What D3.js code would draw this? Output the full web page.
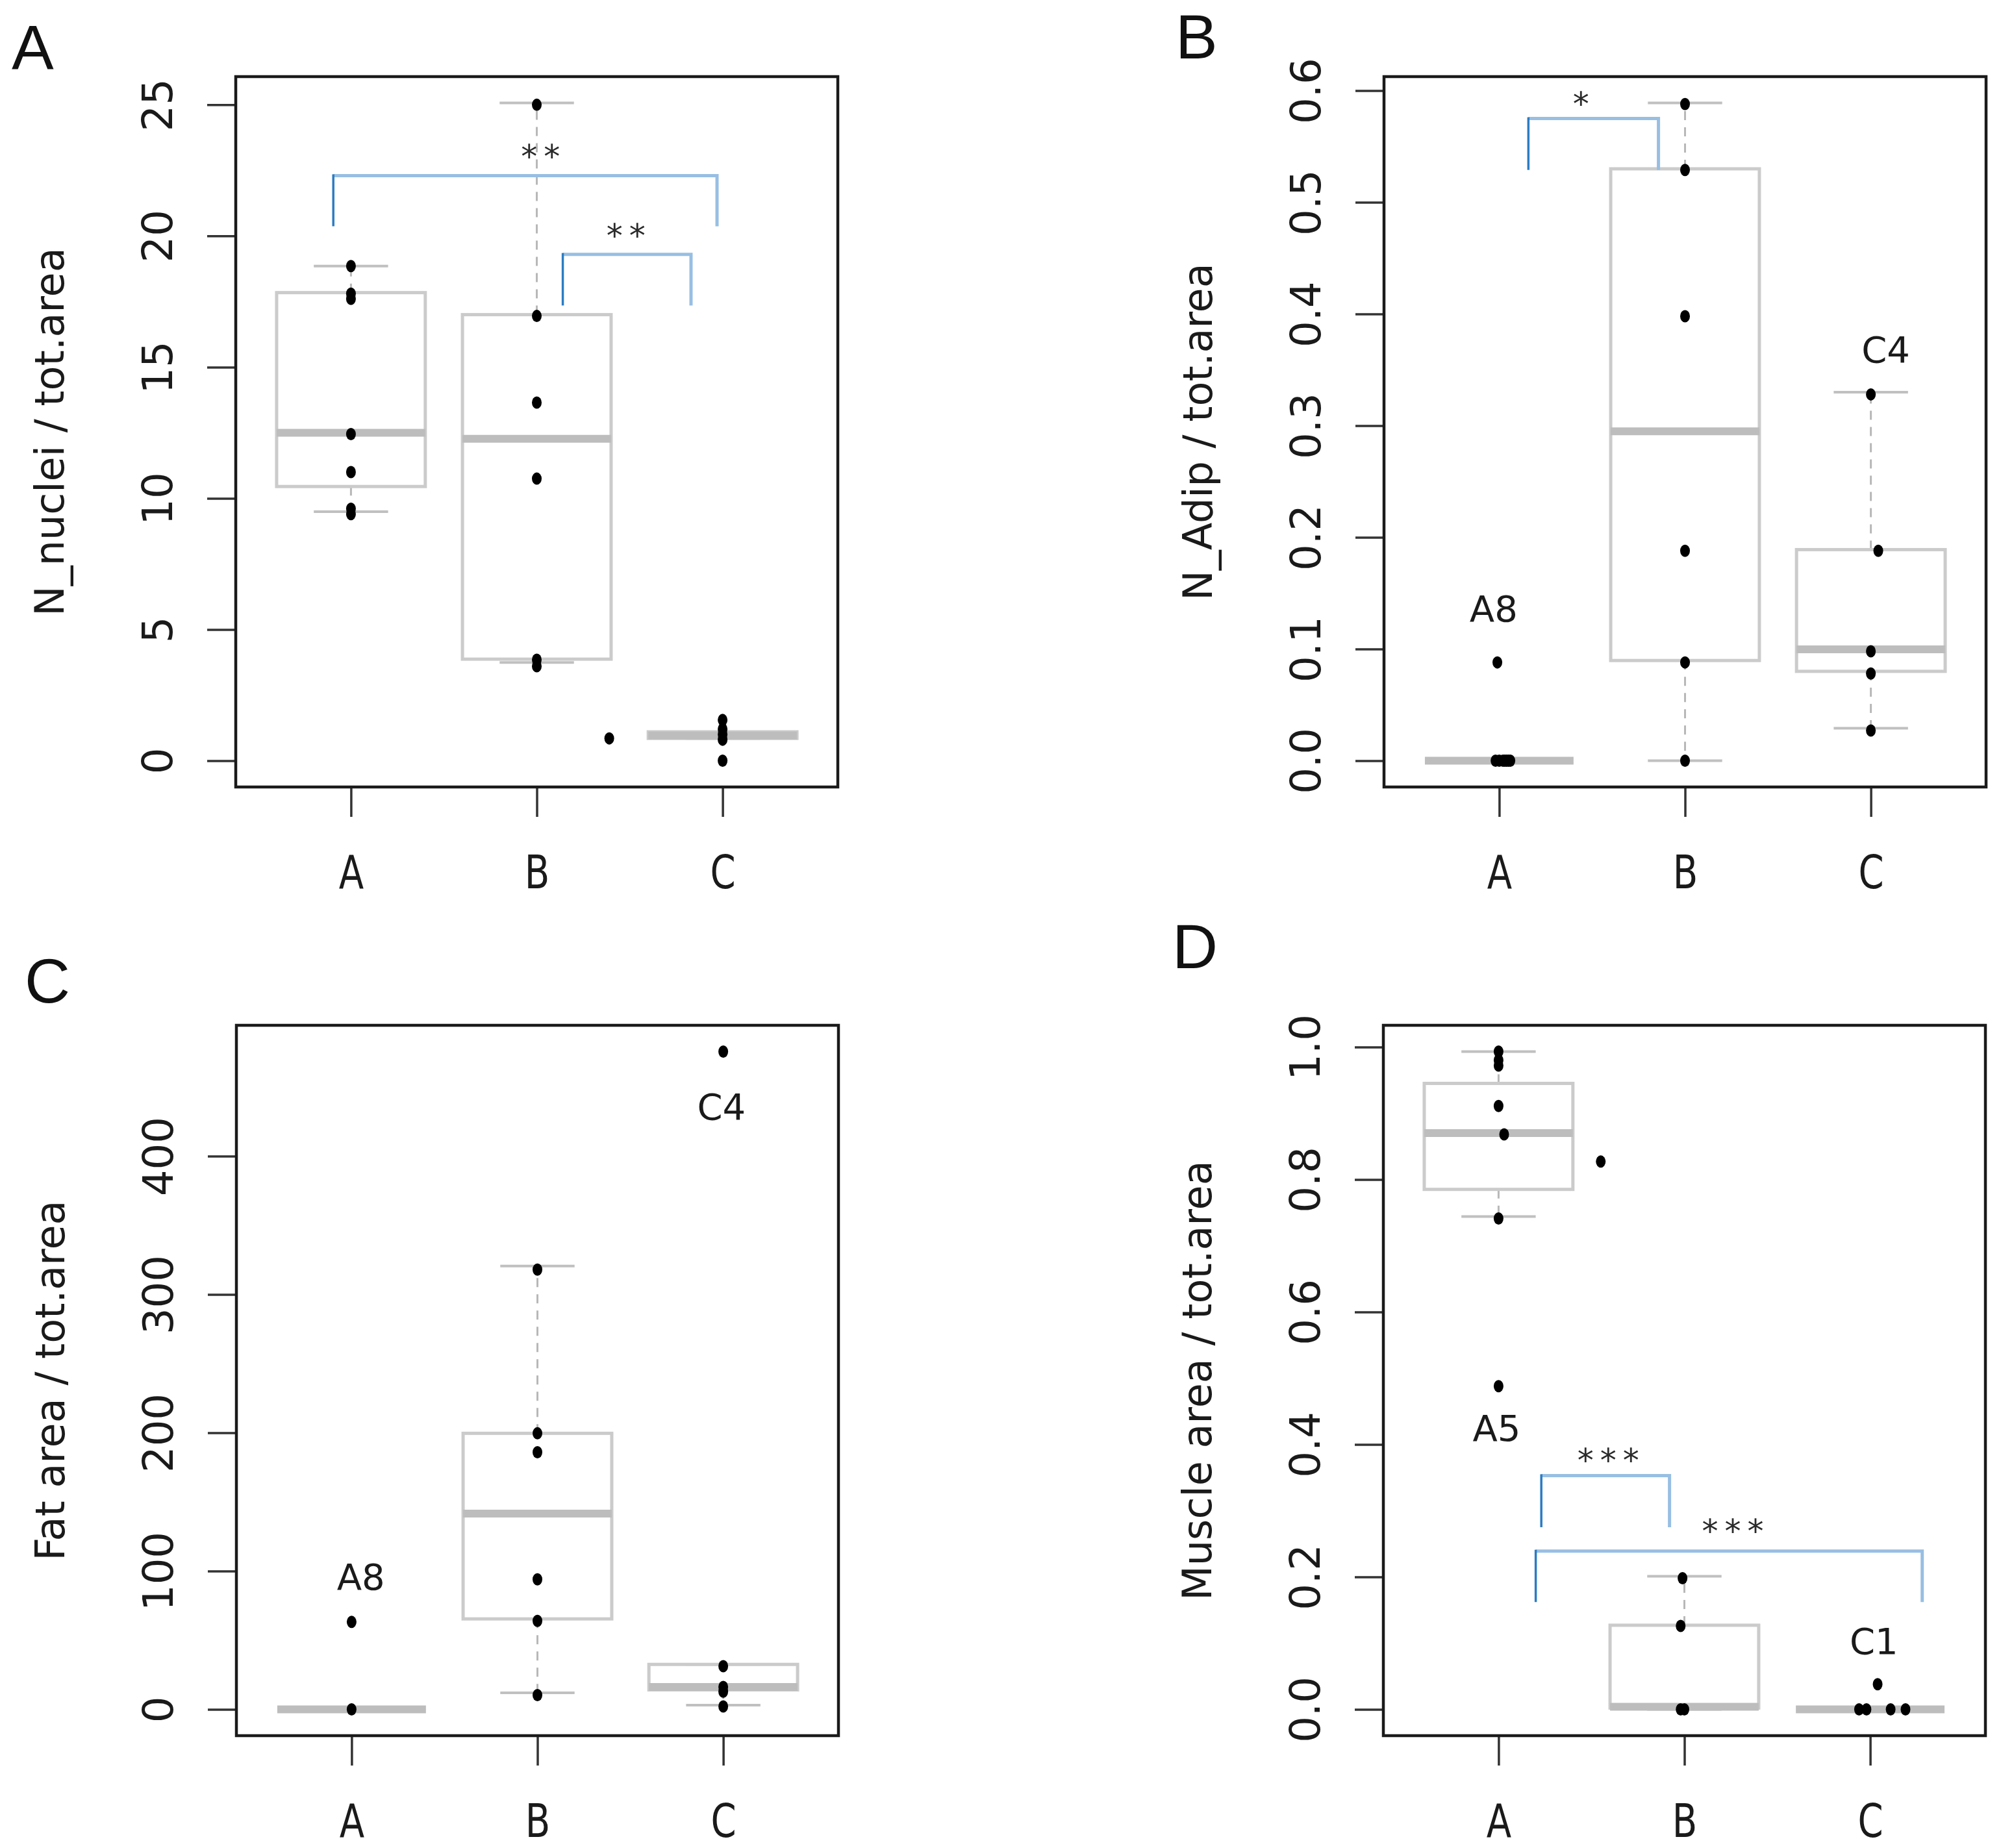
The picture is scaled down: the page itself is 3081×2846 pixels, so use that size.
<!DOCTYPE html>
<html>
<head>
<meta charset="utf-8">
<script src="https://cdn.jsdelivr.net/npm/d3@7"></script>
<style>
  body { margin: 0; background: #fff; }
  svg { display: block; }
</style>
</head>
<body>
<svg id="fig" width="3081" height="2846"></svg>
<script>
// groups on the x axis
const groups = ['A', 'B', 'C'];

// --- panel A: N_nuclei / tot.area ---
const nucleiValues = [
  [18.85, 17.8, 17.6, 12.45, 11.0, 9.6, 9.4],
  [25.0, 16.95, 13.65, 10.75, 3.85, 3.6],
  [1.55, 1.2, 1.0, 0.8, 0.0]
];
// [lower whisker, Q1, median, Q3, upper whisker]
const nucleiStats = [
  [9.49, 10.45, 12.5, 17.84, 18.85],
  [3.74, 3.87, 12.27, 17.0, 25.07],
  [0.85, 0.85, 0.96, 1.1, 1.1]
];
const nucleiStray = [[2.39, 0.85]];          // [x in group units, value]
const nucleiTicks = [0, 5, 10, 15, 20, 25];
// [x1, x2, top, leg end, label, label baseline, label x]
const nucleiSig = [
  [0.905, 2.97, 22.3, 20.37, '**', 22.6, 2.02],
  [2.14, 2.83, 19.3, 17.35, '**', 19.6, 2.48]
];

// --- panel B: N_Adip / tot.area ---
const adipValues = [
  [0.088, 0, 0, 0, 0, 0, 0, 0],
  [0.588, 0.529, 0.398, 0.188, 0.088, 0.0],
  [0.328, 0.188, 0.098, 0.078, 0.027]
];
const adipJitter = [
  [-0.01, -0.02, 0, 0.02, 0.03, 0.04, 0.05, 0.06],
  [0, 0, 0, 0, 0, 0],
  [0, 0.04, 0, 0, 0]
];
const adipStats = [
  [0, 0, 0, 0, 0],
  [0, 0.0897, 0.295, 0.53, 0.589],
  [0.029, 0.08, 0.0997, 0.189, 0.33]
];
const adipTicks = [0, 0.1, 0.2, 0.3, 0.4, 0.5, 0.6];
const adipSig = [[1.157, 1.857, 0.575, 0.529, '*', 0.578, 1.44]];
const adipLabels = [['A8', 0.97, 0.125], ['C4', 3.08, 0.357]];

// --- panel C: Fat area / tot.area ---
const fatValues = [
  [63.2, 0],
  [318, 199.6, 185.9, 94, 64, 10.3],
  [475.6, 31.2, 16.2, 12.8, 2.1]
];
const fatStats = [
  [0, 0, 0, 0, 0],
  [12, 65.4, 141.5, 199.6, 320.5],
  [3.0, 14.1, 16.2, 32.5, 32.5]
];
const fatTicks = [0, 100, 200, 300, 400];
const fatLabels = [['A8', 1.05, 86.7], ['C4', 2.99, 426.5]];

// --- panel D: Muscle area / tot.area ---
const muscleValues = [
  [0.993, 0.98, 0.972, 0.911, 0.868, 0.741, 0.488],
  [0.198, 0.126, 0, 0],
  [0.038, 0, 0, 0, 0]
];
const muscleJitter = [
  [0, 0, 0, 0, 0.03, 0, 0],
  [-0.01, -0.02, -0.02, 0],
  [0.04, -0.06, -0.02, 0.11, 0.19]
];
const muscleStats = [
  [0.744, 0.785, 0.87, 0.945, 0.993],
  [0, 0.002, 0.004, 0.127, 0.201],
  [0, 0, 0, 0, 0]
];
const muscleStray = [[1.55, 0.827]];
const muscleTicks = [0, 0.2, 0.4, 0.6, 0.8, 1.0];
const muscleSig = [
  [1.23, 1.92, 0.353, 0.275, '***', 0.359, 1.59],
  [1.20, 3.28, 0.239, 0.162, '***', 0.252, 2.26]
];
const muscleLabels = [['A5', 0.99, 0.405], ['C1', 3.02, 0.084]];

const svg = d3.select('#fig');
svg.append('rect').attr('width', 3081).attr('height', 2846).attr('fill', '#fff');

const FONT = '"DejaVu Sans", "Liberation Sans", sans-serif';
const W = 927, H = 1094;

function drawPanel(p) {
  const g = svg.append('g');
  const left = p.left, top = p.top;

  // y range: R style, data extent padded by 4%
  const all = p.values.flat().concat(p.stats.flat(), (p.stray || []).map(d => d[1]));
  const [lo, hi] = d3.extent(all);
  const pad = (hi - lo) * 0.04;
  const y = d3.scaleLinear().domain([lo - pad, hi + pad]).range([top + H, top]);
  const x = d3.scaleLinear().domain([0.38, 3.62]).range([left, left + W]);

  // y axis
  const ya = g.append('g').attr('transform', `translate(${left},0)`)
    .call(d3.axisLeft(y).tickValues(p.ticks).tickSize(44).tickFormat(p.fmt));
  ya.select('.domain').remove();
  ya.attr('font-family', FONT).attr('font-size', 64);
  ya.selectAll('.tick line').attr('stroke', '#333').attr('stroke-width', 3.5);
  ya.selectAll('.tick text')
    .attr('x', null).attr('dy', null)
    .attr('transform', 'translate(-98,0) rotate(-90)')
    .attr('text-anchor', 'middle')
    .attr('fill', '#1a1a1a');

  // x axis
  const xa = g.append('g').attr('transform', `translate(0,${top + H})`)
    .call(d3.axisBottom(x).tickValues([1, 2, 3]).tickSize(46).tickFormat(i => groups[i - 1]));
  xa.select('.domain').remove();
  xa.attr('font-family', FONT).attr('font-size', 72);
  xa.selectAll('.tick line').attr('stroke', '#333').attr('stroke-width', 3.5);
  xa.selectAll('.tick text')
    .attr('y', 156).attr('dy', null)
    .attr('transform', 'scale(0.78,1)')
    .attr('fill', '#1a1a1a');

  // axis title
  g.append('text')
    .attr('transform', `translate(${left - 265},${top + H / 2}) rotate(-90)`)
    .attr('text-anchor', 'middle')
    .attr('font-family', FONT).attr('font-size', 62).attr('fill', '#1a1a1a')
    .text(p.title);

  // boxes
  const bx = g.append('g');
  p.stats.forEach((s, i) => {
    const c = i + 1;
    const [wl, q1, med, q3, wh] = s;
    bx.append('line').attr('x1', x(c)).attr('x2', x(c)).attr('y1', y(q3)).attr('y2', y(wh))
      .attr('stroke', '#b8b8b8').attr('stroke-width', 3).attr('stroke-dasharray', '14,11');
    bx.append('line').attr('x1', x(c)).attr('x2', x(c)).attr('y1', y(q1)).attr('y2', y(wl))
      .attr('stroke', '#b8b8b8').attr('stroke-width', 3).attr('stroke-dasharray', '14,11');
    [wl, wh].forEach(v => {
      bx.append('line').attr('x1', x(c - 0.2)).attr('x2', x(c + 0.2)).attr('y1', y(v)).attr('y2', y(v))
        .attr('stroke', '#c0c0c0').attr('stroke-width', 4);
    });
    bx.append('rect').attr('x', x(c - 0.4)).attr('width', x(c + 0.4) - x(c - 0.4))
      .attr('y', y(q3)).attr('height', y(q1) - y(q3))
      .attr('fill', 'none').attr('stroke', '#cbcbcb').attr('stroke-width', 5);
    bx.append('line').attr('x1', x(c - 0.4)).attr('x2', x(c + 0.4)).attr('y1', y(med)).attr('y2', y(med))
      .attr('stroke', '#bdbdbd').attr('stroke-width', 12);
  });

  // points
  const pts = [];
  p.values.forEach((vals, i) => vals.forEach((v, j) => {
    const off = p.jitter ? p.jitter[i][j] : 0;
    pts.push([i + 1 + off, v]);
  }));
  (p.stray || []).forEach(d => pts.push(d));
  g.append('g').selectAll('ellipse').data(pts).join('ellipse')
    .attr('cx', d => x(d[0])).attr('cy', d => y(d[1]))
    .attr('rx', 7.5).attr('ry', 9.5).attr('fill', '#000');

  // significance brackets
  (p.sig || []).forEach(b => {
    const [x1, x2, yt, yl, lab, ylab, xlab] = b;
    g.append('path')
      .attr('d', `M${x(x1)},${y(yt)}H${x(x2)}V${y(yl)}`)
      .attr('fill', 'none').attr('stroke', '#98bfe2').attr('stroke-width', 5);
    g.append('line').attr('x1', x(x1)).attr('x2', x(x1)).attr('y1', y(yt) - 2).attr('y2', y(yl))
      .attr('stroke', '#2c7cc3').attr('stroke-width', 3.5);
    g.append('text').attr('x', x(xlab)).attr('y', y(ylab))
      .attr('text-anchor', 'middle').attr('font-family', FONT).attr('font-size', 50)
      .attr('letter-spacing', 10).attr('dx', 5).attr('fill', '#2a2a2a')
      .text(lab);
  });

  // point labels
  g.append('g').selectAll('text').data(p.labels || []).join('text')
    .attr('x', d => x(d[1])).attr('y', d => y(d[2]))
    .attr('text-anchor', 'middle').attr('font-family', FONT).attr('font-size', 56)
    .attr('fill', '#1a1a1a')
    .text(d => d[0]);

  // frame
  g.append('rect').attr('x', left).attr('y', top).attr('width', W).attr('height', H)
    .attr('fill', 'none').attr('stroke', '#1a1a1a').attr('stroke-width', 4.5);

  // panel letter
  svg.append('text').attr('x', p.letterPos[0]).attr('y', p.letterPos[1])
    .attr('font-family', '"Liberation Sans", Arial, sans-serif').attr('font-size', 97)
    .attr('fill', '#111').text(p.letter);
}

const fmtInt = d3.format('d');
const fmt1 = d3.format('.1f');

drawPanel({ left: 363, top: 118, title: 'N_nuclei / tot.area', values: nucleiValues, stats: nucleiStats,
  stray: nucleiStray, ticks: nucleiTicks, fmt: fmtInt, sig: nucleiSig, letter: 'A', letterPos: [18, 106] });
drawPanel({ left: 2131, top: 118, title: 'N_Adip / tot.area', values: adipValues, jitter: adipJitter,
  stats: adipStats, ticks: adipTicks, fmt: fmt1, sig: adipSig, labels: adipLabels, letter: 'B', letterPos: [1810, 90] });
drawPanel({ left: 364, top: 1579, title: 'Fat area / tot.area', values: fatValues, stats: fatStats,
  ticks: fatTicks, fmt: fmtInt, labels: fatLabels, letter: 'C', letterPos: [38, 1544] });
drawPanel({ left: 2130, top: 1579, title: 'Muscle area / tot.area', values: muscleValues, jitter: muscleJitter,
  stats: muscleStats, stray: muscleStray, ticks: muscleTicks, fmt: fmt1, sig: muscleSig, labels: muscleLabels,
  letter: 'D', letterPos: [1805, 1491] });
</script>
</body>
</html>
